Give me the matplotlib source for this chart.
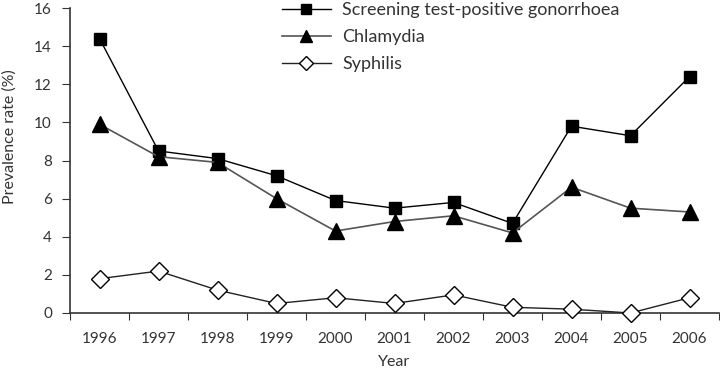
import matplotlib
matplotlib.use("Agg")
import matplotlib.pyplot as plt
import numpy as np

years = ["1996", "1997", "1998", "1999", "2000", "2001", "2002", "2003", "2004", "2005", "2006"]
gonorrhoea = [14.4, 8.5, 8.1, 7.2, 5.9, 5.5, 5.8, 4.7, 9.8, 9.3, 12.4]
chlamydia = [9.9, 8.2, 7.9, 6.0, 4.3, 4.8, 5.1, 4.2, 6.6, 5.5, 5.3]
syphilis = [1.8, 2.2, 1.2, 0.5, 0.8, 0.5, 0.95, 0.3, 0.2, 0.0, 0.8]
yticks = [0, 2, 4, 6, 8, 10, 12, 14, 16]

plt.rcParams['font.family'] = ['Lato', 'DejaVu Sans']
txt = '#333333'

fig = plt.figure(figsize=(7.2, 3.73), dpi=100)
ax = fig.add_axes([70/720, 1-313/373, 649/720, 305/373])

x = np.arange(len(years)) + 0.5
ax.plot(x, gonorrhoea, color='black', lw=1, marker='s', ms=9, mfc='black', mec='black',
        label='Screening test-positive gonorrhoea', clip_on=False, zorder=3)
ax.plot(x, chlamydia, color='#555555', lw=1.2, marker='^', ms=11, mfc='black', mec='black',
        label='Chlamydia', clip_on=False, zorder=3)
ax.plot(x, syphilis, color='#222222', lw=1, marker='D', ms=9, mfc='white', mec='black', mew=1,
        label='Syphilis', clip_on=False, zorder=3)

ax.set_xlim(0, len(years))
ax.set_ylim(0, 16)
ax.set_yticks(yticks)
ax.set_xticks(np.arange(len(years) + 1))
ax.set_xticklabels([])
ax.set_xticks(x, minor=True)
ax.set_xticklabels(years, minor=True)
ax.tick_params(axis='x', which='minor', length=0, pad=14, labelsize=11, labelcolor=txt)
ax.tick_params(axis='x', which='major', direction='out', length=5, color='#333333')
ax.tick_params(axis='y', length=6, direction='out', labelsize=11, labelcolor=txt, color='#333333', pad=7)
for s in ['top', 'right']:
    ax.spines[s].set_visible(False)
for s in ['left', 'bottom']:
    ax.spines[s].set_color('#333333')
    ax.spines[s].set_linewidth(1.2)

ax.set_xlabel('Year', fontsize=11.5, color=txt, labelpad=6)
ax.set_ylabel('Prevalence rate (%)', fontsize=11.5, color=txt)
ax.yaxis.set_label_coords(-53/649, (313-137)/305)

leg = fig.legend(*ax.get_legend_handles_labels(), loc='upper left',
                 bbox_to_anchor=(282/720, 1 - 2/373), bbox_transform=fig.transFigure,
                 frameon=False, fontsize=13, handlelength=2.7, handletextpad=0.65,
                 labelspacing=0.62, markerscale=0.8, borderpad=0, borderaxespad=0)
for t in leg.get_texts():
    t.set_color(txt)

fig.savefig('out.png', dpi=100)
